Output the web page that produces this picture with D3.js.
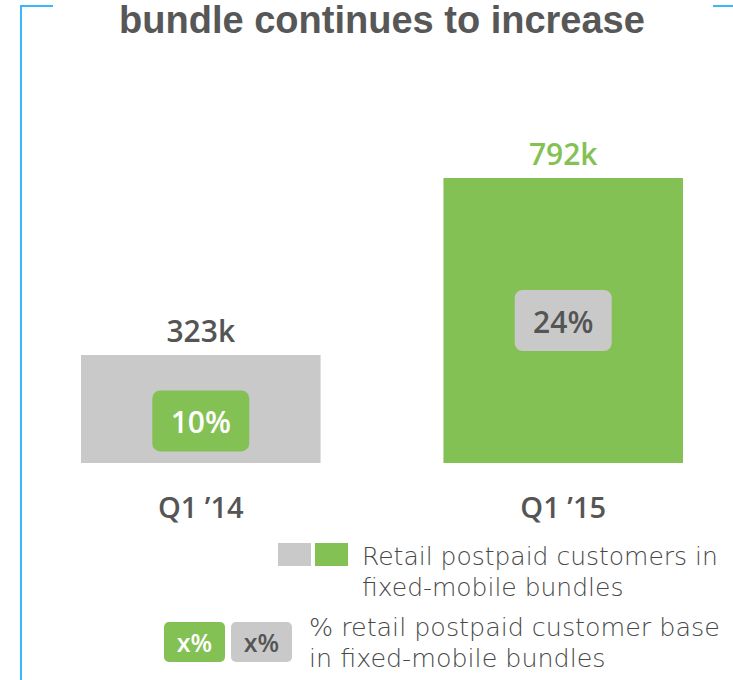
<!DOCTYPE html>
<html>
<head>
<meta charset="utf-8">
<script src="https://cdn.jsdelivr.net/npm/d3@7"></script>
<style>
  html, body { margin: 0; padding: 0; background: #fff; }
  svg { display: block; }
</style>
</head>
<body>
<svg id="chart" width="733" height="680"></svg>
<script>
// Data
const categories = ["Q1 \u201914", "Q1 \u201915"];
const customersK = [323, 792];           // retail postpaid customers in bundles (thousands)
const sharePct = [10, 24];               // % of retail postpaid base
const valueLabels = ["323k", "792k"];
const legendLines1 = ["Retail postpaid customers in", "fixed-mobile bundles"];
const legendLines2 = ["% retail postpaid customer base", "in fixed-mobile bundles"];
const titleText = "bundle continues to increase";

// Styles
const GREEN = "#84c155";
const GREY = "#c9c9c9";
const TEXT = "#555555";
const BLUE = "#3cb8fa";
const barFill = [GREY, GREEN];
const labelFill = [TEXT, GREEN];
const badgeFill = [GREEN, GREY];
const badgeText = ["#ffffff", TEXT];

const svg = d3.select("#chart");

// Frame accents
svg.append("path")
  .attr("d", "M53,6 H21 V680")
  .attr("fill", "none").attr("stroke", BLUE).attr("stroke-width", 2);
svg.append("path")
  .attr("d", "M713,6 H733")
  .attr("fill", "none").attr("stroke", BLUE).attr("stroke-width", 2);

// Title
svg.append("text")
  .attr("x", 382).attr("y", 33)
  .attr("text-anchor", "middle")
  .attr("font-family", "Liberation Sans, Arial, sans-serif")
  .attr("font-weight", "bold")
  .attr("font-size", 38)
  .attr("fill", "#575757")
  .text(titleText);

// Scales
const x = d3.scaleBand().domain(categories).range([81, 683]).paddingInner(0.339).paddingOuter(0);
const y = d3.scaleLinear().domain([37, 792]).range([463, 178]);

const g = svg.append("g");

// Bars
g.selectAll("rect.bar").data(categories).join("rect")
  .attr("class", "bar")
  .attr("x", d => x(d))
  .attr("width", x.bandwidth())
  .attr("y", (d, i) => y(customersK[i]))
  .attr("height", (d, i) => y.range()[0] - y(customersK[i]))
  .attr("fill", (d, i) => barFill[i]);

// Value labels above bars
g.selectAll("text.val").data(categories).join("text")
  .attr("class", "val")
  .attr("x", d => x(d) + x.bandwidth() / 2)
  .attr("y", (d, i) => y(customersK[i]) - 13)
  .attr("text-anchor", "middle")
  .attr("font-family", "Open Sans, sans-serif")
  .attr("font-weight", 600)
  .attr("font-size", 30)
  .attr("fill", (d, i) => labelFill[i])
  .text((d, i) => valueLabels[i]);

// Share badges inside bars
const badgeW = 97, badgeH = 61;
const badgeFrac = [0.61, 0.5];
const badges = g.selectAll("g.badge").data(categories).join("g")
  .attr("class", "badge")
  .attr("transform", (d, i) => {
    const top = y(customersK[i]), bottom = y.range()[0];
    const cy = top + (bottom - top) * badgeFrac[i];
    return `translate(${x(d) + x.bandwidth() / 2},${cy})`;
  });
badges.append("rect")
  .attr("x", -badgeW / 2).attr("y", -badgeH / 2)
  .attr("width", badgeW).attr("height", badgeH)
  .attr("rx", 8).attr("ry", 8)
  .attr("fill", (d, i) => badgeFill[i]);
badges.append("text")
  .attr("y", 12.5)
  .attr("text-anchor", "middle")
  .attr("font-family", "Open Sans, sans-serif")
  .attr("font-weight", 600)
  .attr("font-size", 30)
  .attr("fill", (d, i) => badgeText[i])
  .text((d, i) => sharePct[i] + "%");

// Category axis labels
const xAxis = d3.axisBottom(x).tickSize(0).tickPadding(0);
const ax = svg.append("g").attr("transform", "translate(0,497)").call(xAxis);
ax.select(".domain").remove();
ax.selectAll("text")
  .attr("dy", null)
  .attr("y", 21)
  .attr("font-family", "Open Sans, sans-serif")
  .attr("font-weight", 600)
  .attr("font-size", 29)
  .attr("fill", TEXT);

// Legend
const leg = svg.append("g");
leg.append("rect").attr("x", 278).attr("y", 543).attr("width", 33).attr("height", 23).attr("fill", GREY);
leg.append("rect").attr("x", 315).attr("y", 543).attr("width", 33).attr("height", 23).attr("fill", GREEN);

const legFont = "DejaVu Sans, sans-serif";
function legendText(lines, x0, y0, target) {
  const t = leg.append("text")
    .attr("font-family", legFont)
    .attr("font-weight", 200)
    .attr("font-size", 24)
    .attr("fill", "#484848");
  lines.forEach((s, k) => {
    t.append("tspan").attr("x", x0).attr("y", y0 + k * 31).text(s);
  });
  // size the block so the first line spans the target width
  const w = t.select("tspan").node().getComputedTextLength();
  t.attr("font-size", Math.min(26, 24 * target / w));
}
legendText(legendLines1, 362, 565, 356);
legendText(legendLines2, 309, 636, 411);

const lb = leg.selectAll("g.lb").data([0, 1]).join("g")
  .attr("class", "lb")
  .attr("transform", (d, i) => `translate(${164 + i * 67},622)`);
lb.append("rect")
  .attr("width", 61).attr("height", 40)
  .attr("rx", 5).attr("ry", 5)
  .attr("fill", (d, i) => badgeFill[i]);
lb.append("text")
  .attr("x", 30.5).attr("y", 30)
  .attr("text-anchor", "middle")
  .attr("font-family", "Open Sans, sans-serif")
  .attr("font-weight", 600)
  .attr("font-size", 25)
  .attr("fill", (d, i) => badgeText[i])
  .text("x%");
</script>
</body>
</html>
